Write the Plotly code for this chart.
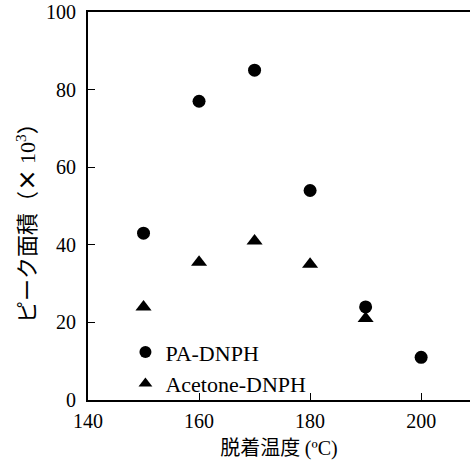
import plotly.graph_objects as go

temps_pa = [150, 160, 170, 180, 190, 200]
pa_dnph = [43, 77, 85, 54, 24, 11]
temps_ac = [150, 160, 170, 180, 190]
acetone_dnph = [24, 35.5, 41, 35, 21]

x_ticks = [140, 160, 180, 200]
y_ticks = [0, 20, 40, 60, 80, 100]

SERIF = "Liberation Serif"
GOTHIC = "Noto Sans CJK JP"

fig = go.Figure()
fig.add_trace(go.Scatter(
    x=temps_pa, y=pa_dnph, mode="markers", name="PA-DNPH",
    marker=dict(symbol="circle", size=13, color="black"),
))
fig.add_trace(go.Scatter(
    x=temps_ac, y=acetone_dnph, mode="markers", name="Acetone-DNPH",
    marker=dict(symbol="triangle-up", size=14, color="black"),
))

fig.update_layout(
    width=470, height=470,
    margin=dict(l=88, r=0, t=12, b=70),
    paper_bgcolor="white", plot_bgcolor="white",
    font=dict(family=SERIF, size=20, color="black"),
    showlegend=True,
    legend=dict(
        x=0.098, y=0.082, xanchor="left", yanchor="middle",
        bgcolor="rgba(0,0,0,0)", font=dict(family=SERIF, size=22, color="black"),
        itemsizing="constant", tracegroupgap=0, itemwidth=30,
    ),
    xaxis=dict(
        range=[140, 208.8], tickvals=x_ticks, ticks="inside", ticklen=7,
        tickwidth=1, tickcolor="black", showgrid=False, zeroline=False,
        showline=True, linecolor="black", linewidth=2, mirror=True,
        tickfont=dict(family=SERIF, size=20), ticklabelstandoff=2,
        title=dict(
            text="脱着温度 <span style=\"font-family:Liberation Serif\">(ºC)</span>",
            font=dict(family=GOTHIC, size=20), standoff=9,
        ),
    ),
    yaxis=dict(
        range=[0, 100], tickvals=y_ticks, ticks="inside", ticklen=7,
        tickwidth=1, tickcolor="black", showgrid=False, zeroline=False,
        showline=True, linecolor="black", linewidth=2,
        tickfont=dict(family=SERIF, size=20), ticklabelstandoff=6,
    ),
    annotations=[dict(
        text="ピーク面積（<b>×</b> <span style=\"font-family:Liberation Serif\">10<sup>3</sup></span>）",
        xref="paper", yref="paper", x=-0.165, y=0.4716,
        xanchor="center", yanchor="middle", textangle=-90, showarrow=False,
        font=dict(family=GOTHIC, size=22, color="black"),
    )],
)

fig.write_html("out.html")
